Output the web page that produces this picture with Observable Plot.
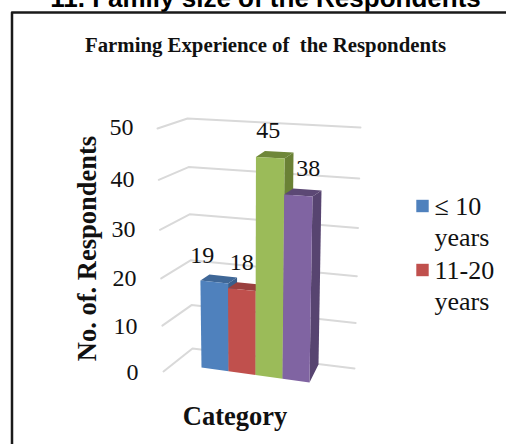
<!DOCTYPE html>
<html><head><meta charset="utf-8">
<script src="https://cdn.jsdelivr.net/npm/d3@7"></script>
<script src="https://cdn.jsdelivr.net/npm/@observablehq/plot@0.6"></script>
<style>html,body{margin:0;padding:0;background:#fff;overflow:hidden}svg{display:block}</style>
</head><body><div id="chart"></div>
<script>
const categories = ["≤ 10 years", "11-20 years", "Group 3", "Group 4"];
const values = [19, 18, 45, 38];
const valueLabels = ["19", "18", "45", "38"];
const yTicks = [0, 10, 20, 30, 40, 50];
const frontColors = ["#4f81bd", "#c0504d", "#9bbb59", "#8064a2"];
const topColors = ["#3f6797", "#9a403e", "#6f8739", "#5c4875"];
const sideColors = ["#3a5f8c", "#8e3b39", "#6a8135", "#574470"];
const legendEntries = [["≤ 10", "years"], ["11-20", "years"]];

// perspective calibration
const rise = v => { const w = v / 50; return 0.93 * w + 0.07 * w * w; };
const lerp = (a, b, t) => a + (b - a) * t;
const front = (u, v) => {
  const f = rise(v);
  return {x: lerp(lerp(201, 309, u), lerp(198, 313, u), f), y: lerp(lerp(367, 382, u), lerp(128, 133, u), f)};
};
const depth = v => {
  const f = rise(v);
  return {x: 9, y: f < 0.34 ? lerp(-18, -6.5, f / 0.34) : -6};
};
const back = (u, v) => { const p = front(u, v), d = depth(v); return {x: p.x + d.x, y: p.y + d.y}; };
const wall = (a0, a50, v) => { const f = rise(v); return {x: lerp(a0[0], a50[0], f), y: lerp(a0[1], a50[1], f)}; };

const gridLines = yTicks.flatMap(v => [
  {v, ...wall([163, 371], [157, 128], v)},
  {v, ...wall([192, 348], [187, 118], v)},
  {v, ...wall([354, 368], [360, 127], v)}
]);
const n = values.length;
const faces = values.flatMap((v, i) => {
  const a = i / n, b = (i + 1) / n;
  const poly = (id, color, pts) => pts.map(p => ({id: `${i}-${id}`, color, x: p.x, y: p.y}));
  return [
    ...poly("side", sideColors[i], [front(b, 0), back(b, 0), back(b, v), front(b, v)]),
    ...poly("top", topColors[i], [front(a, v), back(a, v), back(b, v), front(b, v)]),
    ...poly("front", frontColors[i], [front(a, 0), front(b, 0), front(b, v), front(a, v)])
  ];
});
const labelOffsets = [-12, 0, -2, 10];
const labels = values.map((v, i) => {
  const p = front((i + 0.5) / n, v);
  return {text: valueLabels[i], x: p.x + labelOffsets[i], y: p.y - 27};
});
const tickLabels = yTicks.map(v => ({text: String(v), x: lerp(138, 133, rise(v)), y: wall([163, 372], [157, 127], v).y}));
const legendSwatches = legendEntries.map((e, i) => ({x: 422, y: 205.5 + i * 64, color: frontColors[i]}));
const legendText = legendEntries.flatMap((e, i) => e.map((t, j) => ({text: t, x: 434, y: 206 + i * 64 + j * 31})));
const frame = [[506, 12], [11.5, 12], [11.5, 444]].map(([x, y]) => ({x, y}));
const serif = "Liberation Serif";

const chart = Plot.plot({
  width: 506, height: 444, margin: 0,
  style: {background: "#fff", overflow: "hidden"},
  x: {type: "linear", domain: [0, 506], range: [0, 506], axis: null},
  y: {type: "linear", domain: [0, 444], range: [0, 444], axis: null},
  color: {type: "identity"},
  marks: [
    Plot.text(["11. Family size of the Respondents"], {x: 265, y: 6, text: d => d, fontFamily: "Liberation Sans", fontWeight: "bold", fontSize: 26, textAnchor: "middle", lineAnchor: "bottom", fill: "#000"}),
    Plot.line(frame, {x: "x", y: "y", stroke: "#1a1a1a", strokeWidth: 2.5, curve: "linear"}),
    Plot.text(["Farming Experience of  the Respondents"], {x: 265, y: 45, text: d => d, fontFamily: serif, fontWeight: "bold", fontSize: 20.8, fill: "#111"}),
    Plot.line(gridLines, {x: "x", y: "y", z: "v", stroke: "#d9d9d9", strokeWidth: 2, curve: "linear"}),
    Plot.line(faces, {x: "x", y: "y", z: "id", fill: "color", stroke: "none", curve: "linear"}),
    Plot.text(labels, {x: "x", y: "y", text: "text", fontFamily: serif, fontSize: 24, fill: "#111"}),
    Plot.text(tickLabels, {x: "x", y: "y", text: "text", textAnchor: "end", fontFamily: serif, fontSize: 24, fill: "#111"}),
    Plot.text(["No. of. Respondents"], {x: 87, y: 248, text: d => d, rotate: -90, fontFamily: serif, fontWeight: "bold", fontSize: 26.5, fill: "#111"}),
    Plot.text(["Category"], {x: 234.5, y: 416, text: d => d, fontFamily: serif, fontWeight: "bold", fontSize: 26.5, fill: "#111"}),
    Plot.dot(legendSwatches, {x: "x", y: "y", fill: "color", symbol: "square", r: 7, stroke: "none"}),
    Plot.text(legendText, {x: "x", y: "y", text: "text", textAnchor: "start", fontFamily: serif, fontSize: 26, fill: "#111"})
  ]
});
document.getElementById("chart").appendChild(chart);
</script></body></html>
